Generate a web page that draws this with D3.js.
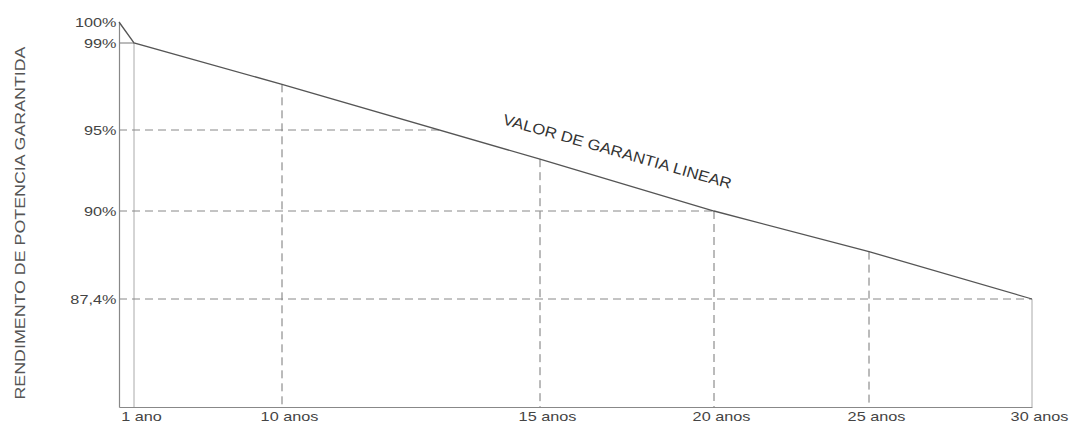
<!DOCTYPE html>
<html>
<head>
<meta charset="utf-8">
<script src="https://cdn.jsdelivr.net/npm/d3@7"></script>
<style>
    body { margin: 0; background: #fff; }
    text { font-family: "Liberation Sans", Arial, sans-serif; fill: #444; }
</style>
</head>
<body>
<div id="chart"></div>
<script>
// Data
const years = [0, 1, 10, 15, 20, 25, 30];
const guarantee = [100, 99, 97.1, 93.2, 90, 88.8, 87.4];
const xTickYears = [1, 10, 15, 20, 25, 30];
const xTickLabels = ["1 ano", "10 anos", "15 anos", "20 anos", "25 anos", "30 anos"];
const yTicks = [100, 99, 95, 90, 87.4];
const yTickLabels = ["100%", "99%", "95%", "90%", "87,4%"];
const yFloor = 85;

// Dimensions and margins
const margin = {top: 22, right: 43, bottom: 19, left: 119};
const width = 1075 - margin.left - margin.right;
const height = 426 - margin.top - margin.bottom;

const svg = d3.select("#chart")
    .append("svg")
    .attr("width", width + margin.left + margin.right)
    .attr("height", height + margin.top + margin.bottom)
    .append("g")
    .attr("transform", `translate(${margin.left},${margin.top})`);

// The original axes are schematic (not evenly spaced), so use piecewise scales
const xScale = d3.scaleLinear()
    .domain(years)
    .range([0, 15, 163, 421, 595, 750, width]);

const yScale = d3.scaleLinear()
    .domain([yFloor, 87.4, 90, 95, 99, 100])
    .range([height, 277, 189, 108, 21, 0]);

const points = years.map((y, i) => [xScale(y), yScale(guarantee[i])]);
const textStretch = 1.3;

// Vertical guides at each year tick
xTickYears.forEach(yr => {
    const i = years.indexOf(yr);
    const solid = yr === 1 || yr === 30;
    svg.append("line")
        .attr("x1", xScale(yr))
        .attr("x2", xScale(yr))
        .attr("y1", yScale(guarantee[i]))
        .attr("y2", height)
        .attr("stroke", solid ? "#aaa" : "#777")
        .attr("stroke-width", 1)
        .attr("stroke-dasharray", solid ? null : "8,5");
});

// Horizontal guides from the axis to where the line reaches each value
function crossing(v) {
    const py = yScale(v);
    for (let i = 1; i < points.length; i++) {
        const [x0, y0] = points[i - 1];
        const [x1, y1] = points[i];
        if (py >= y0 && py <= y1) {
            return x0 + (py - y0) / (y1 - y0 || 1) * (x1 - x0);
        }
    }
    return 0;
}

yTicks.filter(v => v !== 100).forEach(v => {
    svg.append("line")
        .attr("x1", 0)
        .attr("x2", crossing(v))
        .attr("y1", yScale(v))
        .attr("y2", yScale(v))
        .attr("stroke", v === 99 ? "#777" : "#888")
        .attr("stroke-width", 1)
        .attr("stroke-dasharray", v === 99 ? null : "8,5");
});

// Axes
const yAxis = svg.append("g")
    .call(d3.axisLeft(yScale)
        .tickValues(yTicks)
        .tickFormat((d, i) => yTickLabels[i])
        .tickSize(0)
        .tickSizeOuter(0)
        .tickPadding(2));

const xAxis = svg.append("g")
    .attr("transform", `translate(0,${height})`)
    .call(d3.axisBottom(xScale)
        .tickValues(xTickYears)
        .tickFormat((d, i) => xTickLabels[i])
        .tickSize(0)
        .tickSizeOuter(0)
        .tickPadding(5));

[yAxis, xAxis].forEach(ax => {
    ax.select(".domain").attr("stroke", "#888").attr("stroke-width", 1.2);
    ax.selectAll("text")
        .style("font-size", "12.5px")
        .style("fill", "#444")
        .attr("transform", `scale(${textStretch},1)`);
});
xAxis.selectAll("text").attr("dx", 7 / textStretch);

// Guaranteed power line
svg.append("path")
    .datum(points)
    .attr("d", d3.line())
    .attr("fill", "none")
    .attr("stroke", "#555")
    .attr("stroke-width", 1.3);

// Line label, parallel to the line
const p1 = points[1], pEnd = points[points.length - 1];
const angle = Math.atan2(pEnd[1] - p1[1], pEnd[0] - p1[0]) * 180 / Math.PI;
const labelX = 616 - margin.left;
const labelY = p1[1] + (labelX - p1[0]) * (pEnd[1] - p1[1]) / (pEnd[0] - p1[0]) - 24;
svg.append("text")
    .attr("transform", `translate(${labelX},${labelY}) rotate(${angle})`)
    .attr("text-anchor", "middle")
    .attr("textLength", 237)
    .attr("lengthAdjust", "spacingAndGlyphs")
    .style("font-size", "15px")
    .style("fill", "#333")
    .text("VALOR DE GARANTIA LINEAR");

// Y axis title
svg.append("text")
    .attr("transform", "rotate(-90)")
    .attr("x", -(223 - margin.top))
    .attr("y", 25 - margin.left)
    .attr("text-anchor", "middle")
    .attr("textLength", 353)
    .attr("lengthAdjust", "spacingAndGlyphs")
    .style("font-size", "14px")
    .style("fill", "#555")
    .text("RENDIMENTO DE POTENCIA GARANTIDA");
</script>
</body>
</html>
